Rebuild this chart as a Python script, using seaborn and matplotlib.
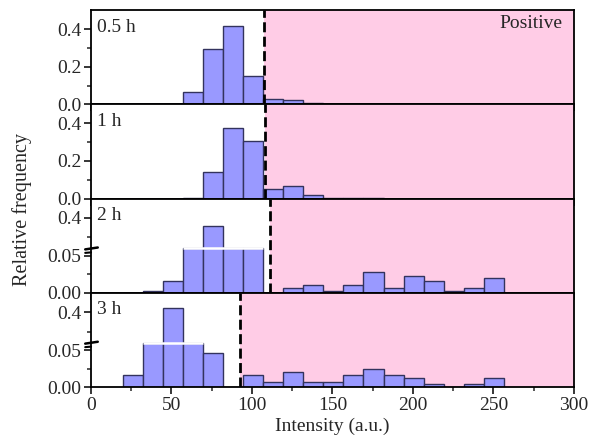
import numpy as np
import pandas as pd
import matplotlib
matplotlib.use("Agg")
import matplotlib.pyplot as plt
from matplotlib.ticker import FixedLocator, FuncFormatter
import seaborn as sns

# ---------------- data ----------------
bin_centers = [25.9, 38.4, 50.8, 63.3, 75.8, 88.2, 100.7, 113.2, 125.6, 138.1,
               150.6, 163.0, 175.5, 188.0, 200.4, 212.9, 225.4, 237.8, 250.3]
bin_width = 12.47
panel_labels = ["0.5 h", "1 h", "2 h", "3 h"]
thresholds = [107.3, 107.9, 111.4, 92.3]

freq_05h = [0, 0, 0, 0.065, 0.295, 0.418, 0.151, 0.029, 0.024, 0.006,
            0.002, 0, 0, 0, 0, 0, 0, 0, 0]
freq_1h = [0, 0, 0, 0.004, 0.144, 0.374, 0.305, 0.053, 0.066, 0.018,
           0.004, 0.002, 0.002, 0, 0, 0, 0, 0, 0]
freq_2h = [0, 0.003, 0.0155, 0.14, 0.36, 0.17, 0.175, 0, 0.007, 0.0106,
           0.0027, 0.0106, 0.028, 0.007, 0.0235, 0.0155, 0.003, 0.007, 0.02]
freq_3h = [0.016, 0.18, 0.42, 0.19, 0.0455, 0, 0.016, 0.0075, 0.0208, 0.0075,
           0.0075, 0.016, 0.025, 0.016, 0.012, 0.004, 0, 0.004, 0.0125]
series = [freq_05h, freq_1h, freq_2h, freq_3h]
broken = [False, False, True, True]

# broken-axis definition: lower part 0..low_top, upper part up_bottom..0.5
low_top = 0.06
up_bottom = 0.243

x_ticks = [0, 50, 100, 150, 200, 250, 300]

# ---------------- style ----------------
sns.set_style("ticks")
plt.rcParams["font.family"] = ["Liberation Serif", "DejaVu Serif"]
plt.rcParams["font.size"] = 14
plt.rcParams["axes.linewidth"] = 1.3

bar_color = "#9999FF"
edge_color = "#33335E"
pink = "#FFCCE6"

fig, axes = plt.subplots(4, 1, figsize=(5.91, 4.43), dpi=100, sharex=True)
fig.subplots_adjust(left=0.154, right=0.971, top=0.977, bottom=0.126, hspace=0)

lo_edge = bin_centers[0] - bin_width / 2
hi_edge = bin_centers[-1] + bin_width / 2

f_pts = [0.0, 0.472, 0.474, 1.0]
v_pts = [0.0, low_top, up_bottom, 0.5]


def fwd(v):
    return np.interp(v, v_pts, f_pts)


def inv(f):
    return np.interp(f, f_pts, v_pts)


for i, ax in enumerate(axes):
    vals = series[i]
    df = pd.DataFrame({"intensity": bin_centers, "freq": vals})
    if broken[i]:
        ax.set_yscale("function", functions=(fwd, inv))
    ax.axvspan(thresholds[i], 300, color=pink, zorder=0, lw=0)
    sns.histplot(data=df, x="intensity", weights="freq", binwidth=bin_width,
                 binrange=(lo_edge, hi_edge), ax=ax,
                 color=bar_color, edgecolor=edge_color, linewidth=1.0,
                 alpha=1, zorder=2)
    ax.axvline(thresholds[i], color="black", lw=2.0, ls=(0, (3.6, 1.6)), zorder=4)
    ax.set_xlim(0, 300)
    ax.set_ylim(0, 0.5)
    ax.set_ylabel("")
    ax.set_xlabel("")

    if broken[i]:
        ax.yaxis.set_major_locator(FixedLocator([0.0, 0.05, 0.4]))
        ax.yaxis.set_minor_locator(FixedLocator([0.025, 0.3]))
        ax.yaxis.set_major_formatter(FuncFormatter(lambda v, p: "0.4" if v > 0.3 else f"{v:.2f}"))
        # white break line across bars exceeding the lower part
        tall = [j for j, v in enumerate(vals) if v > low_top]
        ax.hlines(low_top, bin_centers[tall[0]] - bin_width / 2,
                  bin_centers[tall[-1]] + bin_width / 2, color="white",
                  lw=1.8, zorder=3)
        # break mark on the y-axis
        ax.plot([-0.012, 0.014], [0.462, 0.482], transform=ax.transAxes,
                color="black", lw=1.8, clip_on=False, zorder=6)
        ax.plot([-0.012, 0.0], [0.425, 0.43], transform=ax.transAxes,
                color="black", lw=1.5, clip_on=False, zorder=6)
    else:
        ax.yaxis.set_major_locator(FixedLocator([0.0, 0.2, 0.4]))
        ax.yaxis.set_minor_locator(FixedLocator([0.1, 0.3]))
        ax.yaxis.set_major_formatter(FuncFormatter(lambda v, p: f"{v:.1f}"))

    ax.xaxis.set_major_locator(FixedLocator(x_ticks))
    ax.xaxis.set_minor_locator(FixedLocator([25, 75, 125, 175, 225, 275]))
    ax.tick_params(axis="both", which="major", direction="out", length=5, width=1.3,
                   labelsize=14, pad=2)
    ax.tick_params(axis="both", which="minor", direction="out", length=3, width=1.1)
    ax.tick_params(axis="x", which="both", labelbottom=(i == 3))
    for s in ["top", "right", "left", "bottom"]:
        ax.spines[s].set_visible(True)
        ax.spines[s].set_color("black")
    ax.text(0.012, 0.82, panel_labels[i], transform=ax.transAxes, ha="left",
            va="center", fontsize=14, zorder=7)

axes[0].text(0.977, 0.86, "Positive", transform=axes[0].transAxes, ha="right",
             va="center", fontsize=14, zorder=7)
axes[3].set_xlabel("Intensity (a.u.)", fontsize=14, labelpad=3)
fig.text(0.037, 0.528, "Relative frequency", rotation=90, ha="center", va="center",
         fontsize=14.5)

fig.savefig("out.png", dpi=100)
